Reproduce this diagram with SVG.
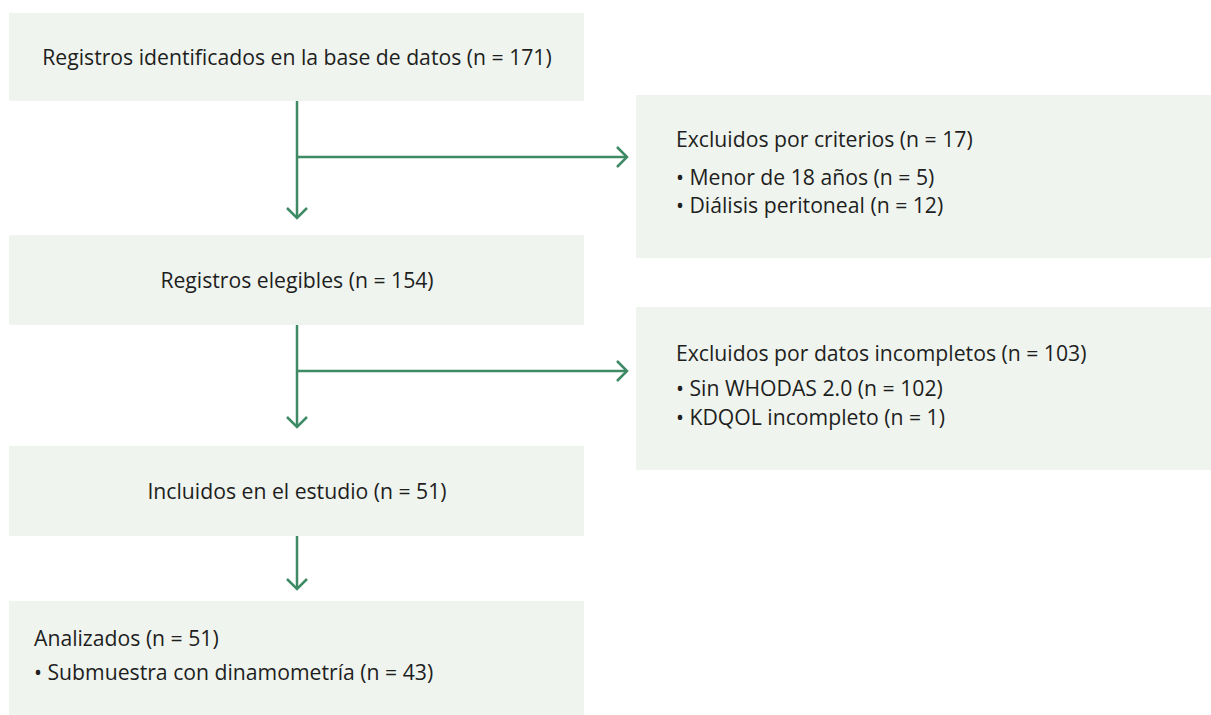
<svg xmlns="http://www.w3.org/2000/svg" width="1211" height="715" viewBox="0 0 1211 715">
<style>
.box{fill:#eff4ee}
.t{font-family:"Open Sans","Noto Sans",sans-serif;font-size:21.2px;fill:#1e1e1e}
.c{stroke:#3d8a64;stroke-width:2.5;fill:none}
</style>
<defs>
<marker id="ah" viewBox="0 0 13 22" refX="11.5" refY="11" markerWidth="13" markerHeight="22" markerUnits="userSpaceOnUse" orient="auto">
<path d="M1.5,1 L11.5,11 L1.5,21" fill="none" stroke="#3d8a64" stroke-width="2.5"/>
</marker>
</defs>
<rect width="1211" height="715" fill="#ffffff"/>
<g id="n1"><rect class="box" x="9" y="13" width="575" height="88"/><text class="t" x="297" y="65" text-anchor="middle">Registros identificados en la base de datos (n = 171)</text></g>
<g id="x1"><rect class="box" x="636" y="95" width="575" height="163"/>
<text class="t" x="676" y="147">Excluidos por criterios (n = 17)</text>
<text class="t" x="676" y="185">• Menor de 18 años (n = 5)</text>
<text class="t" x="676" y="213">• Diálisis peritoneal (n = 12)</text></g>
<g id="n2"><rect class="box" x="9" y="235" width="575" height="90"/><text class="t" x="297" y="288" text-anchor="middle">Registros elegibles (n = 154)</text></g>
<g id="x2"><rect class="box" x="636" y="307" width="575" height="163"/>
<text class="t" x="676" y="361">Excluidos por datos incompletos (n = 103)</text>
<text class="t" x="676" y="396">• Sin WHODAS 2.0 (n = 102)</text>
<text class="t" x="676" y="425">• KDQOL incompleto (n = 1)</text></g>
<g id="n3"><rect class="box" x="9" y="446" width="575" height="90"/><text class="t" x="297" y="499" text-anchor="middle">Incluidos en el estudio (n = 51)</text></g>
<g id="n4"><rect class="box" x="9" y="601" width="575" height="114"/>
<text class="t" x="34" y="646">Analizados (n = 51)</text>
<text class="t" x="34" y="680">• Submuestra con dinamometría (n = 43)</text></g>
<g id="connectors">
<path class="c" d="M297,101 V218" marker-end="url(#ah)"/>
<path class="c" d="M297,157 H627" marker-end="url(#ah)"/>
<path class="c" d="M297,325 V427" marker-end="url(#ah)"/>
<path class="c" d="M297,371 H627" marker-end="url(#ah)"/>
<path class="c" d="M297,536 V589" marker-end="url(#ah)"/>
</g>
</svg>
